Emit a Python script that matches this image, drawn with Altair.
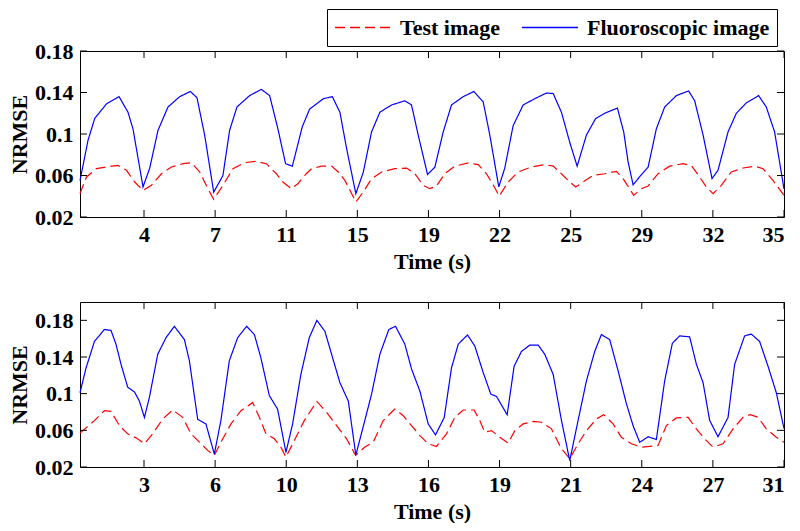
import json
import altair as alt
import pandas as pd

# ---------------- data (frame index 1..100 on x, NRMSE on y) ----------------
SERIES = ["Test image", "Fluoroscopic image"]

top_blue_f = [1, 2.13, 3.07, 4.72, 6.49, 7.75, 8.45, 9.86, 10.8, 11.97, 13.37, 15.02, 16.52, 17.45, 18.53, 19.8,
              21.1, 22.04, 23.07, 24.85, 26.5, 27.67, 28.83, 29.91, 30.86, 32.26, 33.29, 34.45, 35.21, 36.48, 37.55,
              38.49, 39.79, 40.83, 42.0, 43.17, 44.81, 46.68, 47.62, 48.56, 49.87, 50.9, 52.08, 53.24, 54.89, 56.38,
              57.7, 58.63, 59.89, 60.73, 61.91, 63.32, 64.95, 66.59, 67.54, 68.7, 69.87, 70.91, 72.22, 73.52, 74.79,
              76.57, 77.46, 78.08, 78.78, 79.85, 80.89, 82.05, 83.22, 84.86, 86.59, 87.44, 88.62, 89.88, 90.72, 92.13,
              93.3, 94.7, 96.43, 97.51, 98.68, 100]
top_blue_v = [0.055, 0.094, 0.115, 0.129, 0.136, 0.121, 0.105, 0.049, 0.067, 0.1035, 0.126, 0.136, 0.141, 0.135, 0.099,
              0.044, 0.060, 0.1035, 0.126, 0.137, 0.143, 0.137, 0.105, 0.0714, 0.069, 0.107, 0.124, 0.130, 0.134, 0.136,
              0.121, 0.086, 0.0425, 0.063, 0.102, 0.121, 0.128, 0.132, 0.128, 0.099, 0.061, 0.068, 0.102, 0.128, 0.136,
              0.141, 0.131, 0.099, 0.049, 0.067, 0.108, 0.128, 0.134, 0.1395, 0.139, 0.121, 0.092, 0.069, 0.099, 0.115,
              0.120, 0.125, 0.102, 0.073, 0.051, 0.060, 0.068, 0.105, 0.126, 0.137, 0.1415, 0.132, 0.099, 0.057, 0.065,
              0.102, 0.120, 0.130, 0.137, 0.126, 0.102, 0.047]

top_red_f = [1, 1.91, 3.31, 4.72, 6.35, 7.53, 8.69, 9.86, 11.04, 12.45, 13.85, 15.48, 16.66, 17.83, 18.99, 19.8, 21.1,
             22.51, 24.15, 25.8, 27.2, 28.61, 29.53, 30.71, 31.64, 32.82, 33.57, 34.97, 36.38, 37.32, 38.25, 39.79,
             40.83, 42.0, 43.41, 45.27, 46.92, 48.09, 49.27, 50.19, 51.13, 52.3, 53.71, 55.59, 57.0, 58.16, 59.1, 59.95,
             61.21, 62.62, 64.49, 66.36, 67.54, 68.7, 69.87, 70.71, 71.75, 73.16, 74.79, 76.43, 77.37, 78.3, 78.86,
             79.95, 80.89, 82.29, 83.92, 85.81, 86.97, 88.14, 89.08, 90.02, 91.19, 92.59, 94.24, 95.87, 97.05, 98.45, 100]
top_red_v = [0.0425, 0.0586, 0.0666, 0.0682, 0.0697, 0.065, 0.0537, 0.0456, 0.0505, 0.0617, 0.0682, 0.0714, 0.0724,
             0.0634, 0.0473, 0.037, 0.0505, 0.0666, 0.0724, 0.0736, 0.0714, 0.0617, 0.0537, 0.0473, 0.0521, 0.0617,
             0.0666, 0.069, 0.069, 0.0634, 0.0553, 0.0345, 0.0441, 0.0569, 0.0634, 0.0666, 0.0672, 0.0617, 0.0505,
             0.0473, 0.0499, 0.0617, 0.069, 0.0721, 0.0705, 0.0617, 0.0511, 0.0402, 0.0537, 0.0634, 0.0682, 0.0705,
             0.069, 0.0617, 0.0537, 0.0489, 0.0537, 0.0601, 0.0617, 0.064, 0.0569, 0.0473, 0.0408, 0.0473, 0.0499,
             0.0617, 0.069, 0.0714, 0.0697, 0.0586, 0.0489, 0.0425, 0.0505, 0.0634, 0.0672, 0.069, 0.0666, 0.0553, 0.0408]

bot_blue_f = [1, 1.85, 3.03, 4.43, 5.36, 6.06, 6.77, 7.71, 8.65, 9.35, 10.06, 10.76, 11.93, 13.09, 14.27, 15.68, 16.38,
              17.55, 18.71, 19.89, 20.82, 22.0, 23.17, 24.43, 25.52, 26.44, 27.62, 28.79, 29.96, 30.9, 32.06, 33.24,
              34.31, 35.44, 36.38, 37.55, 38.73, 39.79, 41.06, 42.0, 43.17, 44.43, 45.37, 46.68, 47.62, 48.79, 49.97,
              50.99, 52.22, 53.24, 54.19, 55.49, 56.52, 57.7, 58.77, 59.57, 61.07, 62.05, 63.08, 64.25, 65.43, 66.36,
              67.54, 68.7, 69.87, 71.05, 72.22, 73.38, 74.32, 75.49, 76.67, 77.84, 78.78, 79.71, 80.89, 82.05, 83.22,
              84.3, 85.33, 86.73, 87.68, 88.62, 89.54, 90.72, 92.13, 93.06, 94.46, 95.4, 96.57, 97.75, 98.92, 100]
bot_blue_v = [0.101, 0.128, 0.157, 0.170, 0.169, 0.154, 0.132, 0.107, 0.102, 0.092, 0.074, 0.096, 0.143, 0.161, 0.1735,
              0.159, 0.136, 0.072, 0.067, 0.034, 0.071, 0.136, 0.161, 0.1735, 0.1645, 0.139, 0.098, 0.083, 0.036, 0.067,
              0.121, 0.161, 0.180, 0.168, 0.143, 0.112, 0.092, 0.033, 0.071, 0.0995, 0.143, 0.170, 0.1735, 0.154, 0.127,
              0.103, 0.067, 0.055, 0.074, 0.128, 0.154, 0.164, 0.152, 0.123, 0.0995, 0.097, 0.077, 0.130, 0.146, 0.153,
              0.153, 0.143, 0.121, 0.071, 0.027, 0.071, 0.114, 0.146, 0.1645, 0.159, 0.125, 0.089, 0.065, 0.047, 0.053,
              0.050, 0.114, 0.155, 0.163, 0.162, 0.132, 0.112, 0.071, 0.053, 0.074, 0.132, 0.163, 0.165, 0.157, 0.130,
              0.101, 0.062]

bot_red_f = [1, 3.03, 4.43, 5.36, 6.54, 7.71, 8.88, 10.06, 11.22, 12.63, 14.03, 15.44, 16.61, 17.79, 18.95, 19.89, 20.82,
             22.23, 23.63, 25.28, 26.22, 27.15, 28.33, 29.25, 29.96, 31.14, 32.54, 34.31, 35.68, 37.08, 38.49, 39.75,
             41.06, 42.24, 43.64, 45.27, 46.45, 47.62, 48.79, 49.97, 51.13, 52.54, 53.71, 54.89, 56.43, 57.22, 57.92,
             58.87, 60.03, 61.21, 62.14, 63.32, 64.73, 65.89, 67.3, 68.7, 69.87, 71.05, 72.22, 73.62, 74.65, 75.97,
             77.13, 78.54, 79.95, 81.11, 82.29, 83.46, 84.86, 86.51, 87.68, 88.84, 90.02, 91.43, 92.83, 94.24, 95.26,
             96.35, 97.51, 98.92, 100]
bot_red_v = [0.057, 0.0706, 0.0814, 0.0807, 0.0652, 0.0562, 0.0518, 0.0453, 0.0562, 0.0724, 0.0822, 0.0742, 0.0562,
             0.0471, 0.0381, 0.0327, 0.0471, 0.067, 0.0814, 0.0904, 0.0742, 0.0562, 0.0508, 0.0417, 0.0308, 0.0489,
             0.0706, 0.0915, 0.0796, 0.0652, 0.0508, 0.0327, 0.0417, 0.0471, 0.0706, 0.0833, 0.076, 0.0652, 0.0543,
             0.0453, 0.0424, 0.0562, 0.0742, 0.0822, 0.0822, 0.0706, 0.0579, 0.0597, 0.0525, 0.046, 0.0597, 0.067,
             0.0698, 0.0688, 0.0616, 0.0399, 0.0291, 0.0453, 0.0597, 0.0724, 0.0771, 0.067, 0.0525, 0.0453, 0.0417,
             0.0424, 0.0435, 0.0652, 0.0735, 0.0742, 0.0616, 0.0508, 0.0417, 0.0453, 0.0616, 0.0742, 0.0771, 0.0742,
             0.0616, 0.0525, 0.0471]

x_tick_pos = [10, 20, 30, 40, 50, 60, 70, 80, 90, 100]
top_x_labels = ["4", "7", "11", "15", "19", "22", "25", "29", "32", "35"]
bot_x_labels = ["3", "6", "10", "13", "16", "19", "21", "24", "27", "31"]
y_ticks = [0.02, 0.06, 0.1, 0.14, 0.18]
top_y_domain = [0.02, 0.18]
bot_y_domain = [0.02, 0.2]
x_domain = [1, 100]

COLORS = ["#ff0000", "#0000ff"]
DASHES = [[10, 5], [1, 0]]
FONT = "Liberation Serif"
FS = 22
W = 704
TICK = 7


def series_df(red_f, red_v, blue_f, blue_v):
    rows = []
    for i, (f, v) in enumerate(zip(red_f, red_v)):
        rows.append({"frame": f, "nrmse": v, "series": SERIES[0], "idx": i})
    for i, (f, v) in enumerate(zip(blue_f, blue_v)):
        rows.append({"frame": f, "nrmse": v, "series": SERIES[1], "idx": i})
    return pd.DataFrame(rows)


def panel(df, x_labels, y_domain, height, show_legend):
    xs = alt.Scale(domain=x_domain, nice=False, zero=False)
    ys = alt.Scale(domain=y_domain, nice=False, zero=False)
    label_expr = "%s[round(datum.value / 10) - 1]" % json.dumps(x_labels).replace('"', "'")
    x_axis = alt.Axis(values=x_tick_pos, labelExpr=label_expr, title="Time (s)")
    y_axis = alt.Axis(values=y_ticks, format=".2~f", title="NRMSE")
    if show_legend:
        leg = alt.Legend(
            orient="none", legendX=247, legendY=-42, direction="horizontal", title=None,
            strokeColor="black", fillColor="white", padding=7, symbolType="stroke",
            symbolSize=3136, symbolStrokeWidth=1.5, clipHeight=23, labelFont=FONT, labelFontSize=FS,
            labelFontWeight="bold", labelColor="black", columnPadding=20, labelOffset=8,
            labelLimit=400, cornerRadius=0,
        )
    else:
        leg = None
    lines = alt.Chart(df).mark_line(strokeWidth=1.2).encode(
        x=alt.X("frame:Q", scale=xs, axis=x_axis),
        y=alt.Y("nrmse:Q", scale=ys, axis=y_axis),
        color=alt.Color("series:N", scale=alt.Scale(domain=SERIES, range=COLORS), legend=leg),
        strokeDash=alt.StrokeDash("series:N", scale=alt.Scale(domain=SERIES, range=DASHES), legend=leg),
        order=alt.Order("idx:Q"),
    )
    xt = pd.DataFrame({"frame": x_tick_pos})
    yt = pd.DataFrame({"nrmse": y_ticks})
    xtop = alt.Chart(xt).mark_rule(color="black", strokeWidth=1).encode(
        x=alt.X("frame:Q", scale=xs, axis=x_axis), y=alt.value(0), y2=alt.value(TICK))
    xbot = alt.Chart(xt).mark_rule(color="black", strokeWidth=1).encode(
        x=alt.X("frame:Q", scale=xs, axis=x_axis), y=alt.value(height), y2=alt.value(height - TICK))
    yleft = alt.Chart(yt).mark_rule(color="black", strokeWidth=1).encode(
        y=alt.Y("nrmse:Q", scale=ys, axis=y_axis), x=alt.value(0), x2=alt.value(TICK))
    yright = alt.Chart(yt).mark_rule(color="black", strokeWidth=1).encode(
        y=alt.Y("nrmse:Q", scale=ys, axis=y_axis), x=alt.value(W - TICK), x2=alt.value(W))
    return alt.layer(lines, xtop, xbot, yleft, yright).properties(width=W, height=height)


top = panel(series_df(top_red_f, top_red_v, top_blue_f, top_blue_v), top_x_labels, top_y_domain, 166, True)
bot = panel(series_df(bot_red_f, bot_red_v, bot_blue_f, bot_blue_v), bot_x_labels, bot_y_domain, 165, False)

chart = alt.vconcat(top, bot, spacing=28).properties(
    padding={"left": 0, "top": 0, "right": 0, "bottom": 0}
).resolve_scale(x="independent", y="independent").configure_view(
    stroke="black", strokeWidth=1
).configure_axis(
    grid=False, domain=False, ticks=False,
    labelFont=FONT, labelFontSize=FS, labelFontWeight="bold", labelColor="black", labelPadding=7,
    titleFont=FONT, titleFontSize=FS, titleFontWeight="bold", titleColor="black",
).configure_axisY(titlePadding=3).configure_axisX(titlePadding=6)

chart.save("out.html", embed_options={"renderer": "svg", "actions": False})
